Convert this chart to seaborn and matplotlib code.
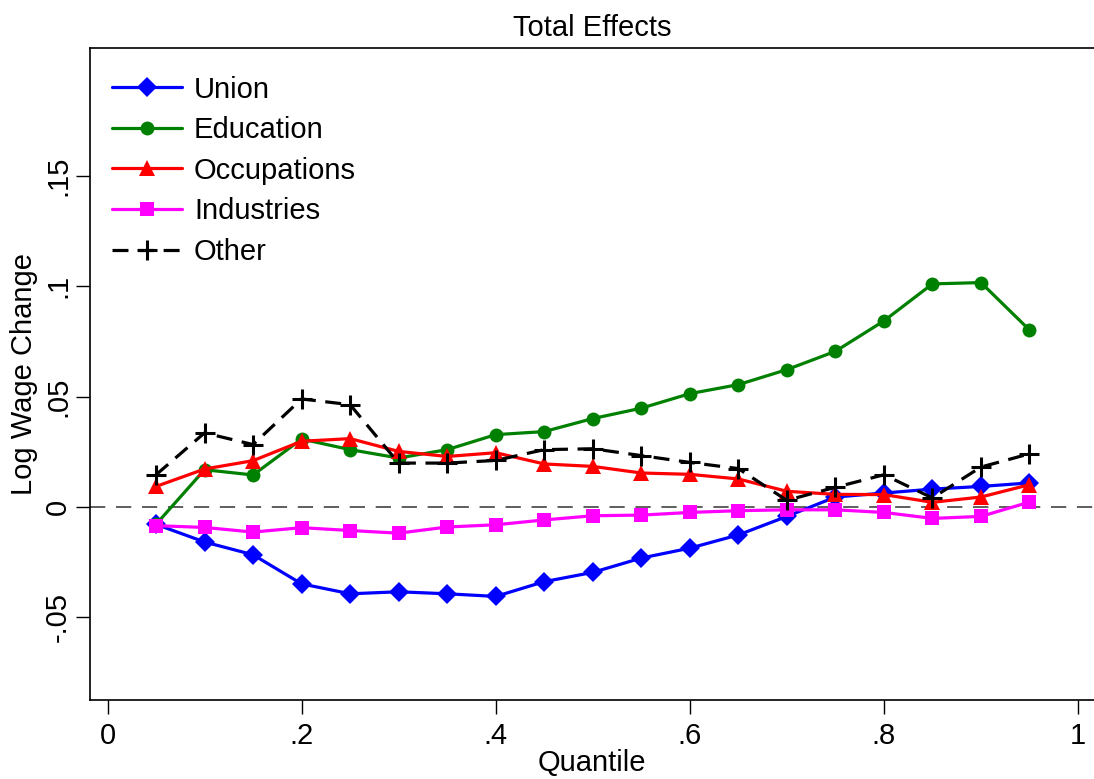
import numpy as np
import pandas as pd
import matplotlib
matplotlib.use("Agg")
import matplotlib.pyplot as plt
import seaborn as sns

quantile = [0.05, 0.10, 0.15, 0.20, 0.25, 0.30, 0.35, 0.40, 0.45, 0.50,
            0.55, 0.60, 0.65, 0.70, 0.75, 0.80, 0.85, 0.90, 0.95]

union = [-0.0080, -0.0160, -0.0218, -0.0350, -0.0395, -0.0386, -0.0395, -0.0407,
         -0.0340, -0.0298, -0.0233, -0.0188, -0.0128, -0.0044, 0.0044, 0.0062,
         0.0080, 0.0092, 0.0108]
education = [-0.0080, 0.0168, 0.0144, 0.0307, 0.0259, 0.0221, 0.0259, 0.0327,
             0.0341, 0.0400, 0.0447, 0.0513, 0.0554, 0.0622, 0.0705, 0.0843,
             0.1011, 0.1017, 0.0802]
occupations = [0.0092, 0.0171, 0.0209, 0.0297, 0.0309, 0.0251, 0.0228, 0.0245,
               0.0194, 0.0183, 0.0153, 0.0147, 0.0126, 0.0070, 0.0056, 0.0055,
               0.0020, 0.0044, 0.0100]
industries = [-0.0086, -0.0094, -0.0115, -0.0095, -0.0108, -0.0120, -0.0092, -0.0082,
              -0.0060, -0.0041, -0.0038, -0.0026, -0.0018, -0.0014, -0.0014, -0.0026,
              -0.0053, -0.0044, 0.0021]
other = [0.0145, 0.0335, 0.0282, 0.0489, 0.0463, 0.0198, 0.0198, 0.0210,
         0.0259, 0.0263, 0.0232, 0.0201, 0.0173, 0.0029, 0.0088, 0.0145,
         0.0040, 0.0180, 0.0240]

series_names = ["Union", "Education", "Occupations", "Industries", "Other"]
series_values = [union, education, occupations, industries, other]
y_ticks = [-0.05, 0, 0.05, 0.1, 0.15]
y_tick_labels = ["-.05", "0", ".05", ".1", ".15"]
x_ticks = [0, 0.2, 0.4, 0.6, 0.8, 1.0]
x_tick_labels = ["0", ".2", ".4", ".6", ".8", "1"]

df = pd.DataFrame({
    "Quantile": np.tile(quantile, len(series_names)),
    "Effect": np.concatenate(series_values),
    "Series": np.repeat(series_names, len(quantile)),
})

sns.set_theme(style="white")
plt.rcParams["font.family"] = ["Liberation Sans", "DejaVu Sans"]
plt.rcParams["text.color"] = "black"
plt.rcParams["axes.labelcolor"] = "black"
plt.rcParams["xtick.color"] = "black"
plt.rcParams["ytick.color"] = "black"
FS = 21

fig = plt.figure(figsize=(10.94, 7.79), dpi=100)
ax = fig.add_axes([0.0823, 0.1014, 0.9177, 0.8366])

styles = {
    "Union": dict(color="#0000ff", marker="D", markersize=10, ls="-"),
    "Education": dict(color="#008000", marker="o", markersize=10, ls="-"),
    "Occupations": dict(color="#ff0000", marker="^", markersize=11, ls="-"),
    "Industries": dict(color="#ff00ff", marker="s", markersize=9.5, ls="-"),
    "Other": dict(color="#000000", marker="+", markersize=15, ls=(0, (5, 3))),
}

# zero reference line
ax.axhline(0, color="#333333", lw=1.1, ls=(0, (10, 7)), zorder=1)

for name in series_names:
    st = styles[name]
    sub = df[df["Series"] == name]
    sns.lineplot(data=sub, x="Quantile", y="Effect", ax=ax, color=st["color"],
                 marker=st["marker"], markersize=st["markersize"],
                 markeredgewidth=2.2 if name == "Other" else 0,
                 markeredgecolor=st["color"], linewidth=2.3,
                 linestyle=st["ls"], label=name, zorder=3)

ax.set_xlim(-0.018, 1.0165)
ax.set_ylim(-0.0877, 0.208)
ax.set_xticks(x_ticks)
ax.set_xticklabels(x_tick_labels, fontsize=FS)
ax.set_yticks(y_ticks)
ax.set_yticklabels(y_tick_labels, fontsize=FS, rotation=90, va="center")
ax.tick_params(axis="both", direction="out", length=10, width=1, color="black",
               left=True, bottom=True)
ax.tick_params(axis="y", pad=3)
ax.tick_params(axis="x", pad=6)

ax.set_xlabel("Quantile", fontsize=FS, labelpad=-1)
ax.set_ylabel("Log Wage Change", fontsize=FS, labelpad=4)
ax.set_title("Total Effects", fontsize=FS, pad=9)

for side in ["left", "bottom", "top"]:
    ax.spines[side].set_visible(True)
    ax.spines[side].set_color("black")
    ax.spines[side].set_linewidth(1.2)
ax.spines["right"].set_visible(False)

leg = ax.legend(loc="upper left", frameon=False, fontsize=FS, handlelength=2.4,
                handletextpad=0.42, labelspacing=0.43, borderaxespad=0.0,
                bbox_to_anchor=(0.010, 0.976))
for h in leg.legend_handles:
    h.set_linewidth(2.3)

fig.savefig("out.png", dpi=100, facecolor="white")
